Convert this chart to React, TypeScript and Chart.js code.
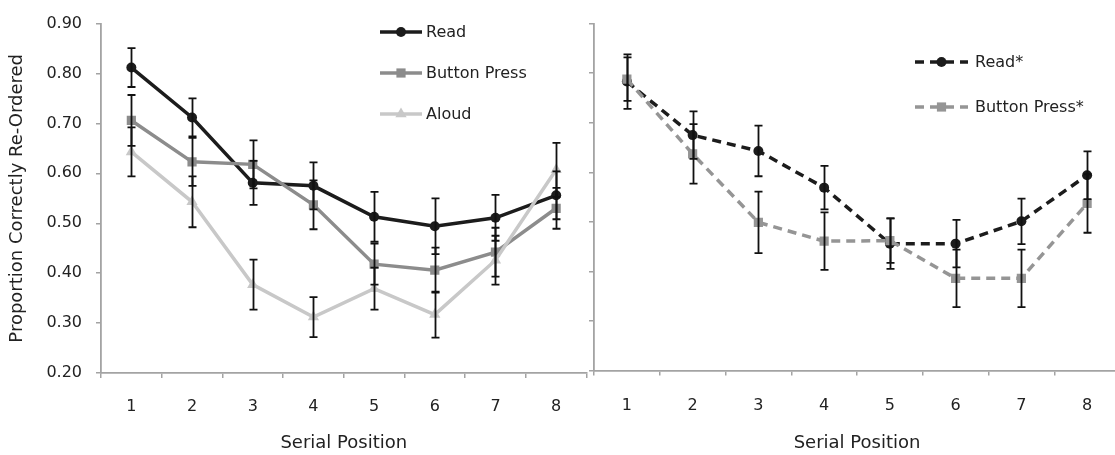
import React, { useEffect, useRef } from 'react';
import { Chart, registerables } from 'chart.js';

Chart.register(...registerables);

// ---------- data ----------
const categories = ['1', '2', '3', '4', '5', '6', '7', '8'];
const yTickValues = [0.2, 0.3, 0.4, 0.5, 0.6, 0.7, 0.8, 0.9];

const readMean = [0.812, 0.712, 0.581, 0.575, 0.513, 0.494, 0.511, 0.556];
const readErr = [0.039, 0.038, 0.044, 0.047, 0.050, 0.056, 0.046, 0.048];
const buttonMean = [0.706, 0.623, 0.618, 0.537, 0.418, 0.406, 0.442, 0.530];
const buttonErr = [0.051, 0.048, 0.048, 0.049, 0.041, 0.045, 0.049, 0.041];
const aloudMean = [0.643, 0.543, 0.377, 0.312, 0.369, 0.317, 0.426, 0.607];
const aloudErr = [0.049, 0.051, 0.050, 0.040, 0.042, 0.046, 0.049, 0.054];

const readStarMean = [0.783, 0.675, 0.643, 0.569, 0.456, 0.456, 0.501, 0.594];
const readStarErr = [0.055, 0.048, 0.051, 0.044, 0.051, 0.048, 0.046, 0.048];
const buttonStarMean = [0.788, 0.637, 0.499, 0.461, 0.462, 0.386, 0.386, 0.537];
const buttonStarErr = [0.044, 0.060, 0.062, 0.058, 0.045, 0.058, 0.058, 0.059];

const seriesNames = ['Read', 'Button Press', 'Aloud'];
const starSeriesNames = ['Read*', 'Button Press*'];
const xTitle = 'Serial Position';
const yTitle = 'Proportion Correctly Re-Ordered';

// ---------- styles ----------
const FONT = '"DejaVu Sans", sans-serif';
const TEXT = '#222222';
const AXIS = '#a3a3a3';
const BLACK = '#1c1c1c';
const GRAY = '#8c8c8c';
const LIGHT = '#c8c8c8';
const GRAY2 = '#959595';

function drawMarker(ctx: CanvasRenderingContext2D, style: string, x: number, y: number, r: number, color: string) {
  ctx.save();
  ctx.setLineDash([]);
  ctx.fillStyle = color;
  ctx.beginPath();
  if (style === 'circle') {
    ctx.arc(x, y, r, 0, Math.PI * 2);
  } else if (style === 'rect') {
    const s = Math.SQRT1_2 * r;
    ctx.rect(x - s, y - s, 2 * s, 2 * s);
  } else if (style === 'triangle') {
    ctx.moveTo(x, y - r);
    ctx.lineTo(x + r * 0.866, y + r * 0.5);
    ctx.lineTo(x - r * 0.866, y + r * 0.5);
    ctx.closePath();
  }
  ctx.fill();
  ctx.restore();
}

const errorBarPlugin = {
  id: 'errorBars',
  afterDatasetsDraw(chart: any) {
    const ctx = chart.ctx as CanvasRenderingContext2D;
    const ys = chart.scales.y;
    ctx.save();
    ctx.strokeStyle = '#111111';
    ctx.lineWidth = 1.8;
    ctx.setLineDash([]);
    const cap = 4;
    chart.data.datasets.forEach((ds: any, i: number) => {
      const meta = chart.getDatasetMeta(i);
      const errs: number[] = ds.errors || [];
      meta.data.forEach((pt: any, j: number) => {
        const v = ds.data[j] as number;
        const e = errs[j] || 0;
        const x = Math.round(pt.x) + 0.5;
        const yt = ys.getPixelForValue(v + e);
        const yb = ys.getPixelForValue(v - e);
        ctx.beginPath();
        ctx.moveTo(x, yt);
        ctx.lineTo(x, yb);
        ctx.moveTo(x - cap, yt);
        ctx.lineTo(x + cap, yt);
        ctx.moveTo(x - cap, yb);
        ctx.lineTo(x + cap, yb);
        ctx.stroke();
      });
    });
    ctx.restore();
  },
};

function makeLegend(items: { y: number }[], x0: number, x1: number, textX: number) {
  return {
    id: 'customLegend',
    afterDraw(chart: any) {
      const ctx = chart.ctx as CanvasRenderingContext2D;
      ctx.save();
      chart.data.datasets.forEach((ds: any, i: number) => {
        const it = items[i];
        if (!it) return;
        ctx.strokeStyle = ds.borderColor;
        ctx.lineWidth = ds.borderWidth;
        ctx.setLineDash(ds.borderDash || []);
        ctx.lineCap = 'butt';
        ctx.beginPath();
        ctx.moveTo(x0, it.y);
        ctx.lineTo(x1, it.y);
        ctx.stroke();
        drawMarker(ctx, ds.pointStyle, (x0 + x1) / 2, it.y, ds.pointRadius, ds.borderColor);
        ctx.setLineDash([]);
        ctx.fillStyle = TEXT;
        ctx.font = `16px ${FONT}`;
        ctx.textAlign = 'left';
        ctx.textBaseline = 'middle';
        ctx.fillText(ds.label, textX, it.y + 1);
      });
      ctx.restore();
    },
  };
}

function makeOptions(yWidth: number, xHeight: number, padRight: number, showYLabels: boolean, xLabelPad: number) {
  return {
    responsive: false,
    animation: false as const,
    layout: { padding: { left: 0, right: padRight, top: 18, bottom: 0 } },
    plugins: {
      legend: { display: false },
      tooltip: { enabled: false },
    },
    scales: {
      x: {
        type: 'category' as const,
        offset: true,
        grid: {
          offset: true,
          drawOnChartArea: false,
          drawTicks: true,
          tickLength: 5,
          color: AXIS,
          lineWidth: 1.5,
        },
        border: { color: AXIS, width: 1.8 },
        ticks: {
          color: TEXT,
          font: { family: FONT, size: 16 },
          padding: xLabelPad,
          maxRotation: 0,
          autoSkip: false,
        },
        title: {
          display: true,
          text: xTitle,
          color: TEXT,
          font: { family: FONT, size: 18 },
          padding: { top: 0, bottom: 1 },
        },
        afterFit: (s: any) => {
          s.height = xHeight;
        },
      },
      y: {
        min: 0.2,
        max: 0.9,
        afterBuildTicks: (s: any) => {
          s.ticks = yTickValues.map((v) => ({ value: v }));
        },
        grid: {
          drawOnChartArea: false,
          drawTicks: true,
          tickLength: 5,
          color: AXIS,
          lineWidth: 1.5,
        },
        border: { color: AXIS, width: 1.8 },
        ticks: {
          color: showYLabels ? TEXT : 'rgba(0,0,0,0)',
          font: { family: FONT, size: 16 },
          padding: 14,
          callback: (v: any) => Number(v).toFixed(2),
        },
        title: {
          display: showYLabels,
          text: yTitle,
          color: TEXT,
          font: { family: FONT, size: 18 },
          padding: { top: 7, bottom: 0 },
        },
        afterFit: (s: any) => {
          s.width = yWidth;
        },
      },
    },
  };
}

function lineDs(label: string, data: number[], errors: number[], color: string, style: string, radius: number, dash: number[], order: number) {
  return {
    label,
    data,
    errors,
    borderColor: color,
    backgroundColor: color,
    borderWidth: 3.5,
    borderDash: dash,
    pointStyle: style,
    pointRadius: radius,
    pointBorderWidth: 0,
    pointBackgroundColor: color,
    pointBorderColor: color,
    tension: 0,
    order,
  } as any;
}

export default function App() {
  const leftRef = useRef<HTMLCanvasElement>(null);
  const rightRef = useRef<HTMLCanvasElement>(null);

  useEffect(() => {
    const left = new Chart(leftRef.current as HTMLCanvasElement, {
      type: 'line',
      data: {
        labels: categories,
        datasets: [
          lineDs(seriesNames[0], readMean, readErr, BLACK, 'circle', 5, [], 3),
          lineDs(seriesNames[1], buttonMean, buttonErr, GRAY, 'rect', 6.5, [], 2),
          lineDs(seriesNames[2], aloudMean, aloudErr, LIGHT, 'triangle', 6.5, [], 1),
        ],
      },
      options: makeOptions(101, 82, 2, true, 19) as any,
      plugins: [errorBarPlugin, makeLegend([{ y: 32 }, { y: 73 }, { y: 114 }], 380, 422, 426)],
    });

    const off = 560;
    const right = new Chart(rightRef.current as HTMLCanvasElement, {
      type: 'line',
      data: {
        labels: categories,
        datasets: [
          lineDs(starSeriesNames[0], readStarMean, readStarErr, BLACK, 'circle', 5, [9, 6], 2),
          lineDs(starSeriesNames[1], buttonStarMean, buttonStarErr, GRAY2, 'rect', 6.5, [9, 6], 1),
        ],
      },
      options: makeOptions(34, 84.5, 10, false, 21) as any,
      plugins: [errorBarPlugin, makeLegend([{ y: 62 }, { y: 107 }], 915 - off, 968 - off, 975 - off)],
    });

    return () => {
      left.destroy();
      right.destroy();
    };
  }, []);

  return (
    <div
      style={{
        position: 'fixed',
        left: 0,
        top: 0,
        width: 1115,
        height: 455,
        overflow: 'hidden',
        background: '#ffffff',
      }}
    >
      <canvas
        ref={leftRef}
        width={593}
        height={455}
        style={{ position: 'absolute', left: 0, top: 0, width: 593, height: 455 }}
      />
      <canvas
        ref={rightRef}
        width={570}
        height={455}
        style={{ position: 'absolute', left: 560, top: 0, width: 570, height: 455 }}
      />
    </div>
  );
}
